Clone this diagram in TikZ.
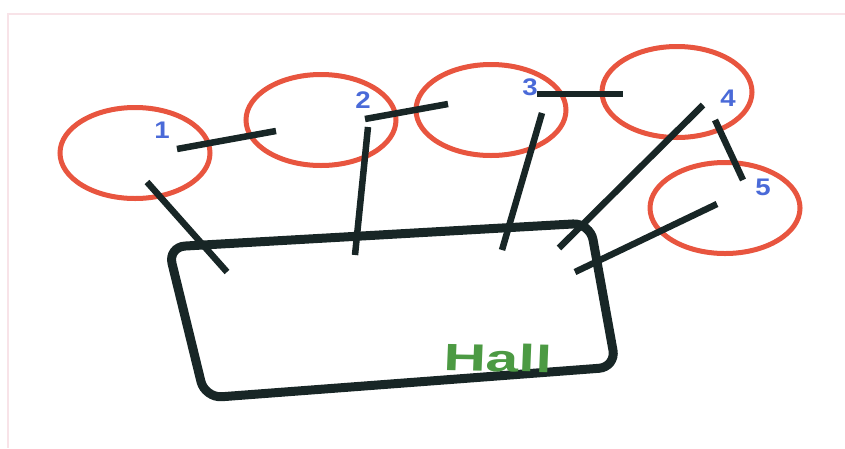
\documentclass[tikz,border=0pt]{standalone}
\usepackage{fontspec}
\setmainfont{Liberation Sans}
\usepackage{tikz}
\usetikzlibrary{shapes.geometric}
\definecolor{roomred}{HTML}{E8553F}
\definecolor{numblue}{HTML}{4A6AD8}
\definecolor{hallgreen}{HTML}{4C9A43}
\definecolor{inkblack}{HTML}{182626}
\definecolor{framepink}{HTML}{F8E3E8}
\tikzset{
  room/.style={ellipse,draw=roomred,line width=5pt,minimum width=150pt,minimum height=91pt,inner sep=0pt},
  lbl/.style={text=numblue,font=\fontsize{24}{24}\selectfont\bfseries,xscale=1.15,inner sep=0pt},
  link/.style={inkblack,line width=6.5pt},
  hallline/.style={inkblack,line width=9pt,rounded corners=17pt}
}

\begin{document}
\begin{tikzpicture}[x=1pt,y=-1pt]
\useasboundingbox (0,0) rectangle (845,448);
\draw[framepink,line width=1.5pt] (8,448) -- (8,14) -- (845,14);
% rooms and their numbers
\foreach \n/\px/\py in {1/135/153,2/321/120,3/491/110,4/677/92,5/725/208}
  \node[room] (r\n) at (\px,\py) {};
\foreach \n/\px/\py in {1/162/130,2/363/100,3/530/87,4/728/98,5/763/187}
  \node[lbl] (l\n) at (\px,\py) {\n};
% hall
\draw[hallline] (168,247) -- (590,223) -- (616,367) -- (205,398) -- cycle;
\node[text=hallgreen,font=\fontsize{38}{38}\selectfont\bfseries,xscale=1.55,rotate=-1.5,inner sep=0pt] (hall) at (498,358) {Hall};
% corridors
\coordinate (p1) at (177,149); \coordinate (q1) at (276,131);
\coordinate (p2) at (365,119); \coordinate (q2) at (448,104);
\coordinate (p3) at (537,94);  \coordinate (q3) at (623,94);
\coordinate (p4) at (715,120); \coordinate (q4) at (743,180);
\foreach \i in {1,...,4} \draw[link] (p\i) -- (q\i);
\coordinate (s1) at (147,182); \coordinate (t1) at (227,272);
\coordinate (s2) at (368,127); \coordinate (t2) at (355,255);
\coordinate (s3) at (542,113); \coordinate (t3) at (502,250);
\coordinate (s4) at (703,105); \coordinate (t4) at (559,248);
\coordinate (s5) at (717,204); \coordinate (t5) at (575,272);
\foreach \i in {1,...,5} \draw[link] (s\i) -- (t\i);
\end{tikzpicture}
\end{document}
